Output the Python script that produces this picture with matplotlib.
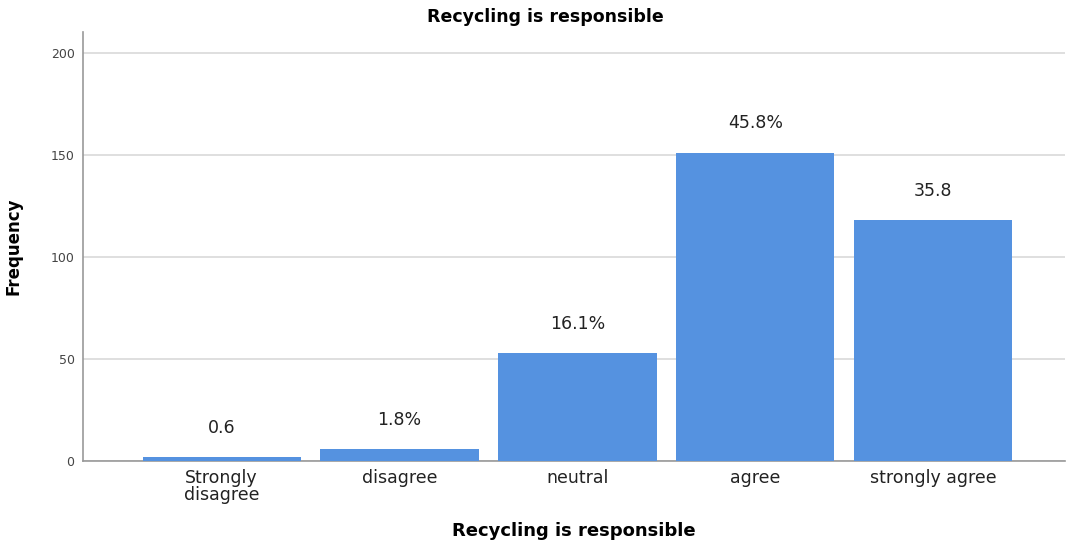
import matplotlib
matplotlib.use("Agg")
import matplotlib.pyplot as plt

categories = ["Strongly\ndisagree", "disagree", "neutral", "agree", "strongly agree"]
frequencies = [2, 6, 53, 151, 118]
bar_labels = ["0.6", "1.8%", "16.1%", "45.8%", "35.8"]
yticks = [0, 50, 100, 150, 200]

fig = plt.figure(figsize=(10.69, 5.44), dpi=100)
ax = fig.add_axes([0.0776, 0.1526, 0.9184, 0.7884])

x = list(range(len(categories)))
bars = ax.bar(x, frequencies, width=0.89, color="#5592e0", zorder=3)

for xi, v, lab in zip(x, frequencies, bar_labels):
    ax.annotate(lab, (xi, v), xytext=(0, 21), textcoords="offset points",
                ha="center", va="center", fontsize=12.5, color="#222222")

ax.set_xlim(-0.78, 4.74)
ax.set_ylim(0, 210)
ax.set_yticks(yticks)
ax.set_yticklabels([str(t) for t in yticks], fontsize=9, color="#444444")
ax.set_xticks(x)
ax.set_xticklabels(categories, fontsize=12.5, color="#222222", linespacing=0.9)
ax.tick_params(axis="x", length=0, pad=6)
ax.tick_params(axis="y", length=0, pad=6)

ax.yaxis.grid(True, color="#d9d9d9", linewidth=1.2, zorder=0)
ax.set_axisbelow(True)
for s in ["top", "right"]:
    ax.spines[s].set_visible(False)
for s in ["left", "bottom"]:
    ax.spines[s].set_color("#999999")
    ax.spines[s].set_linewidth(1.2)

ax.set_ylabel("Frequency", fontsize=12, fontweight="bold", labelpad=20)
ax.set_xlabel("Recycling is responsible", fontsize=13, fontweight="bold")
ax.xaxis.set_label_coords(0.5, -0.164)
ax.xaxis.label.set_va("center")
fig.text(0.51, 0.968, "Recycling is responsible", ha="center", va="center",
         fontsize=12.5, fontweight="bold")

fig.savefig("out.png", dpi=100)
